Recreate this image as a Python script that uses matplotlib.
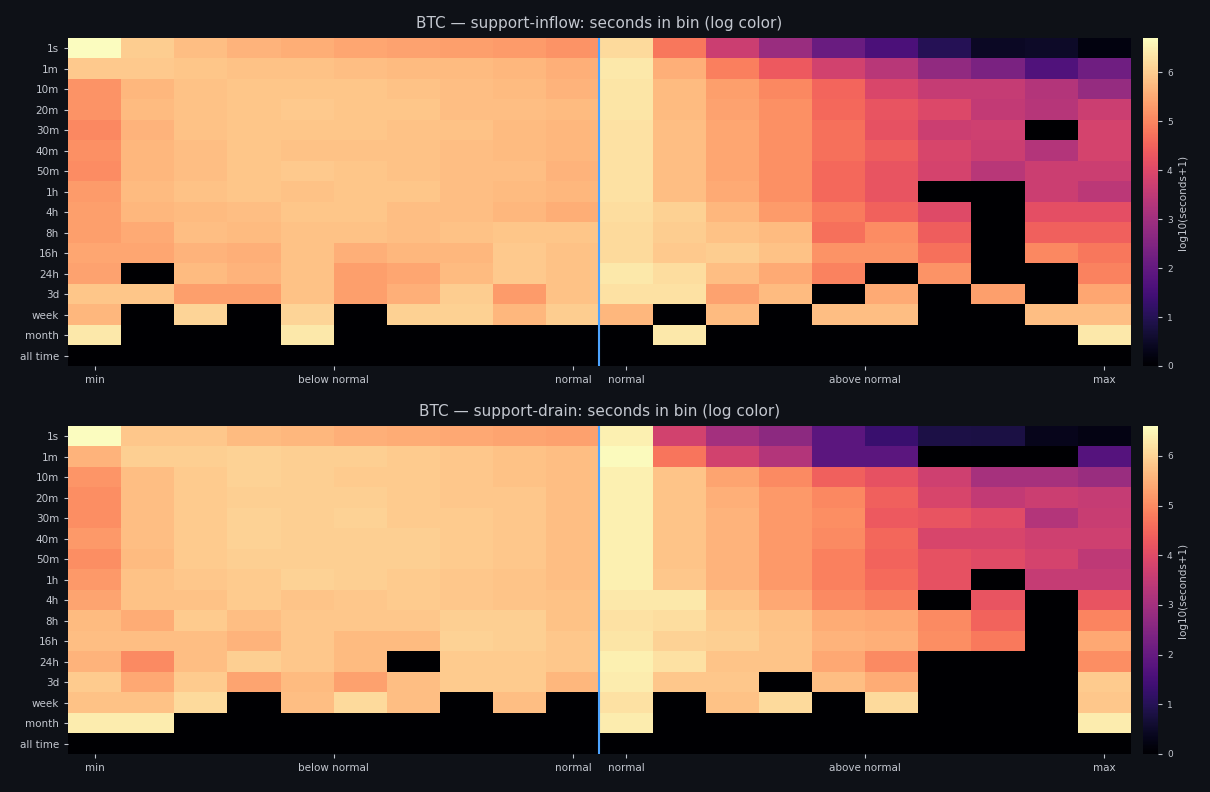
import numpy as np
import matplotlib.pyplot as plt

rows = ["1s", "1m", "10m", "20m", "30m", "40m", "50m", "1h", "4h", "8h",
        "16h", "24h", "3d", "week", "month", "all time"]
xtick_pos = [0, 4.5, 9, 10, 14.5, 19]
xtick_labels = ["min", "below normal", "normal", "normal", "above normal", "max"]

# log10(seconds+1), 16 rows x 20 bins
inflow = [
    [6.7, 6.0, 5.8, 5.65, 5.55, 5.45, 5.4, 5.35, 5.3, 5.2, 6.2, 4.8, 3.7, 2.9, 2.1, 1.6, 1.0, 0.45, 0.5, 0.2],
    [5.95, 5.95, 5.9, 5.85, 5.85, 5.8, 5.75, 5.75, 5.7, 5.6, 6.4, 5.6, 4.9, 4.35, 3.8, 3.4, 2.75, 2.4, 1.7, 2.2],
    [5.2, 5.7, 5.85, 5.9, 5.9, 5.9, 5.85, 5.8, 5.75, 5.65, 6.35, 5.75, 5.35, 5.05, 4.55, 3.95, 3.6, 3.6, 3.3, 2.85],
    [5.2, 5.75, 5.85, 5.9, 5.95, 5.9, 5.9, 5.8, 5.8, 5.75, 6.35, 5.75, 5.4, 5.15, 4.6, 4.25, 4.0, 3.55, 3.35, 3.7],
    [5.05, 5.65, 5.85, 5.9, 5.9, 5.9, 5.85, 5.85, 5.75, 5.7, 6.3, 5.8, 5.45, 5.15, 4.7, 4.2, 3.7, 3.75, 0, 3.85],
    [5.15, 5.7, 5.8, 5.9, 5.85, 5.85, 5.85, 5.8, 5.75, 5.7, 6.3, 5.8, 5.45, 5.15, 4.7, 4.4, 3.9, 3.7, 3.3, 3.85],
    [5.1, 5.7, 5.8, 5.9, 5.95, 5.9, 5.85, 5.8, 5.8, 5.65, 6.3, 5.8, 5.45, 5.15, 4.6, 4.25, 3.85, 3.4, 3.7, 3.7],
    [5.3, 5.75, 5.85, 5.9, 5.85, 5.9, 5.9, 5.8, 5.75, 5.7, 6.3, 5.8, 5.5, 5.15, 4.6, 4.25, 0, 0, 3.7, 3.45],
    [5.35, 5.7, 5.75, 5.8, 5.9, 5.9, 5.8, 5.8, 5.7, 5.55, 6.25, 6.05, 5.7, 5.3, 4.85, 4.5, 4.05, 0, 4.15, 4.15],
    [5.35, 5.5, 5.8, 5.75, 5.85, 5.85, 5.8, 5.85, 5.9, 5.9, 6.2, 6.0, 5.85, 5.75, 4.7, 5.1, 4.4, 0, 4.45, 4.45],
    [5.45, 5.45, 5.65, 5.6, 5.85, 5.6, 5.7, 5.7, 5.95, 5.85, 6.2, 5.95, 6.0, 5.85, 5.2, 5.2, 4.7, 0, 5.05, 4.8],
    [5.4, 0, 5.75, 5.65, 5.85, 5.35, 5.45, 5.75, 5.95, 5.85, 6.4, 6.25, 5.8, 5.5, 4.95, 0, 5.2, 0, 0, 4.95],
    [5.9, 5.9, 5.35, 5.35, 5.85, 5.35, 5.6, 6.0, 5.3, 5.85, 6.3, 6.3, 5.4, 5.75, 0, 5.5, 0, 5.35, 0, 5.45],
    [5.7, 0, 6.1, 0, 6.1, 0, 6.05, 6.05, 5.7, 6.0, 5.7, 0, 5.75, 0, 5.8, 5.8, 0, 0, 5.8, 5.8],
    [6.4, 0, 0, 0, 6.4, 0, 0, 0, 0, 0, 0, 6.4, 0, 0, 0, 0, 0, 0, 0, 6.4],
    [0] * 20,
]

drain = [
    [6.6, 5.85, 5.85, 5.65, 5.6, 5.5, 5.45, 5.4, 5.35, 5.3, 6.4, 3.75, 3.0, 2.65, 1.85, 1.3, 0.85, 0.8, 0.35, 0.25],
    [5.55, 5.95, 5.95, 6.0, 5.95, 5.95, 5.9, 5.85, 5.75, 5.7, 6.55, 4.7, 3.75, 3.25, 1.85, 1.85, 0, 0, 0, 1.75],
    [5.15, 5.7, 5.9, 6.0, 5.95, 5.9, 5.9, 5.85, 5.75, 5.7, 6.4, 5.8, 5.35, 5.0, 4.4, 4.15, 3.7, 3.05, 3.05, 2.85],
    [5.05, 5.7, 5.9, 5.95, 5.95, 5.95, 5.9, 5.85, 5.85, 5.7, 6.4, 5.8, 5.5, 5.2, 4.95, 4.4, 3.85, 3.5, 3.65, 3.55],
    [5.05, 5.7, 5.9, 6.0, 5.95, 6.0, 5.9, 5.9, 5.85, 5.7, 6.4, 5.8, 5.55, 5.2, 5.05, 4.3, 4.2, 4.0, 3.25, 3.6],
    [5.2, 5.7, 5.9, 6.0, 5.95, 5.95, 5.95, 5.9, 5.85, 5.7, 6.4, 5.8, 5.55, 5.2, 5.0, 4.5, 3.85, 3.85, 3.7, 3.7],
    [5.05, 5.65, 5.9, 5.95, 5.95, 5.95, 5.95, 5.9, 5.85, 5.7, 6.4, 5.8, 5.55, 5.2, 4.85, 4.45, 4.15, 4.0, 3.8, 3.45],
    [5.2, 5.75, 5.85, 5.9, 6.0, 5.95, 5.9, 5.85, 5.8, 5.7, 6.4, 5.85, 5.55, 5.2, 4.85, 4.55, 4.15, 0, 3.55, 3.55],
    [5.35, 5.75, 5.75, 5.9, 5.8, 5.85, 5.9, 5.85, 5.8, 5.75, 6.3, 6.3, 5.75, 5.4, 5.0, 4.8, 0, 4.2, 0, 4.2],
    [5.65, 5.45, 5.9, 5.7, 5.85, 5.85, 5.85, 5.95, 5.95, 5.75, 6.2, 6.15, 5.9, 5.75, 5.45, 5.4, 5.0, 4.45, 0, 4.9],
    [5.7, 5.7, 5.7, 5.55, 5.85, 5.65, 5.65, 6.0, 5.95, 5.85, 6.25, 6.0, 5.95, 5.8, 5.55, 5.5, 5.05, 4.75, 0, 5.4],
    [5.55, 5.0, 5.7, 5.95, 5.85, 5.65, 0, 5.9, 5.9, 5.85, 6.4, 6.2, 5.8, 5.8, 5.4, 5.0, 0, 0, 0, 5.05],
    [5.9, 5.4, 5.9, 5.35, 5.65, 5.3, 5.7, 5.9, 5.9, 5.6, 6.35, 5.85, 5.85, 0, 5.7, 5.45, 0, 0, 0, 5.9],
    [5.75, 5.75, 6.1, 0, 5.7, 6.1, 5.7, 0, 5.7, 0, 6.2, 0, 5.75, 6.1, 0, 6.1, 0, 0, 0, 5.85],
    [6.35, 6.35, 0, 0, 0, 0, 0, 0, 0, 0, 6.35, 0, 0, 0, 0, 0, 0, 0, 0, 6.35],
    [0] * 20,
]

bg = "#0e1117"
fg = "#c3c7cf"

fig = plt.figure(figsize=(12.1, 7.92), dpi=100, facecolor=bg)

panels = [
    (inflow, 6.7, "BTC \u2014 support-inflow: seconds in bin (log color)", 0.5379),
    (drain, 6.6, "BTC \u2014 support-drain: seconds in bin (log color)", 0.048),
]

for data, vmax, title, bottom in panels:
    ax = fig.add_axes([0.0562, bottom, 0.8785, 0.4141])
    cax = fig.add_axes([0.9446, bottom, 0.0124, 0.4141])
    ax.set_facecolor(bg)
    im = ax.imshow(np.array(data), cmap="magma", vmin=0, vmax=vmax,
                   aspect="auto", interpolation="nearest")
    ax.axvline(9.5, color="#4da3ff", linewidth=1.5)
    ax.set_title(title, color=fg, fontsize=11, pad=7)
    ax.set_yticks(range(len(rows)))
    ax.set_yticklabels(rows)
    ax.set_xticks(xtick_pos)
    ax.set_xticklabels(xtick_labels)
    ax.tick_params(colors=fg, labelsize=7.5, length=3)
    for s in ax.spines.values():
        s.set_visible(False)

    cb = fig.colorbar(im, cax=cax)
    cb.set_label("log10(seconds+1)", color=fg, fontsize=7.5)
    cb.ax.tick_params(colors=fg, labelsize=6.5, length=3)
    cb.outline.set_visible(False)

plt.savefig("out.png", facecolor=bg)
